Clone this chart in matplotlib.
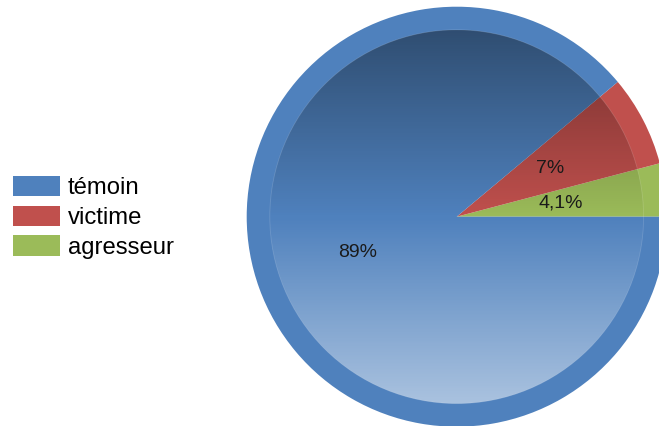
import numpy as np
import matplotlib
matplotlib.use("Agg")
import matplotlib.pyplot as plt
from matplotlib.patches import Circle, Patch

labels = ["témoin", "victime", "agresseur"]
values = [89, 7, 4.1]
pct_texts = ["89%", "7%", "4,1%"]
colors = ["#4F81BD", "#C0504D", "#9BBB59"]

plt.rcParams["font.family"] = ["Liberation Sans", "DejaVu Sans"]

W, H = 659, 426
fig = plt.figure(figsize=(W / 100, H / 100), dpi=100)
ax = fig.add_axes([0, 0, 1, 1])

cx, cy, R = 456.7, H - 216.7, 210

# pie starts at 3 o'clock with the smallest slice
it = iter(pct_texts[::-1])
wedges, _, autotexts = ax.pie(values[::-1], colors=colors[::-1], startangle=0,
                              counterclock=True, radius=R, center=(cx, cy),
                              autopct=lambda p: next(it), pctdistance=0.5,
                              wedgeprops=dict(linewidth=0),
                              textprops=dict(fontsize=14, color="#1a1a1a"))

# inner disc shading: darker at the top, lighter at the bottom
r_in = 0.89 * R
n = 256
t = np.linspace(0, 1, n)
grad = np.zeros((n, 1, 4))
top = t < 0.5
grad[top, 0, 3] = 0.40 * (1 - t[top] / 0.5)
grad[~top, 0, :3] = 1.0
grad[~top, 0, 3] = 0.52 * ((t[~top] - 0.5) / 0.5)
im = ax.imshow(grad, extent=[cx - r_in, cx + r_in, cy - r_in, cy + r_in],
               origin="upper", aspect="auto", zorder=3, interpolation="bilinear")
clip = Circle((cx, cy), r_in, transform=ax.transData)
im.set_clip_path(clip)
ax.add_patch(Circle((cx, cy), r_in, fill=False, ec="white", lw=0.6, alpha=0.15, zorder=3))

for txt in autotexts:
    txt.set_zorder(5)

ax.set_xlim(0, W)
ax.set_ylim(0, H)
ax.set_aspect("equal")
ax.axis("off")

handles = [Patch(facecolor=c, edgecolor="none") for c in colors]
fig.legend(handles, labels, loc="center left", bbox_to_anchor=(0.02, 0.49),
           frameon=False, fontsize=17.2, handlelength=1.97, handleheight=0.95,
           handletextpad=0.33, labelspacing=0.27, borderpad=0, borderaxespad=0)

plt.savefig("out.png", dpi=100)
